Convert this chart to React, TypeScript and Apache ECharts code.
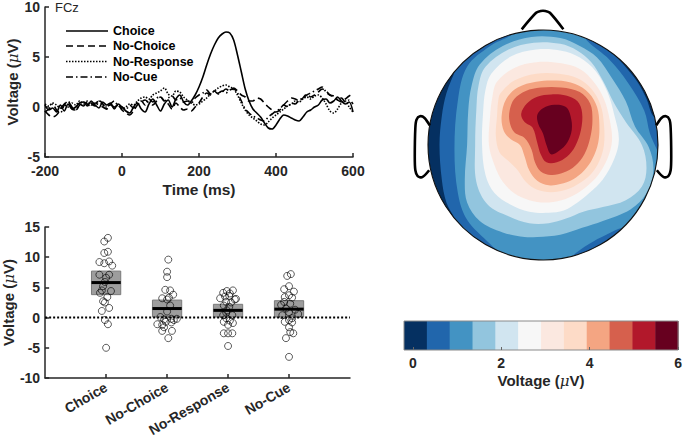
import React, { useEffect, useRef } from "react";
import * as echarts from "echarts";

// ---------- ERP waveforms (FCz), sampled every 10 ms from -200 to 600 ----------
const times = Array.from({ length: 81 }, (_, i) => -200 + i * 10);
const choiceErp = [
  0.2, -0.3, -0.1, -0.5, 0.2, -0.4, 0.3, -0.2, 0.0, 0.4,
  0.5, 0.1, 0.6, 0.2, -0.1, 0.5, 0.2, 0.4, -0.2, 0.3,
  0.0, -0.4, -0.6, 0.0, 0.4, -0.2, -0.5, 0.3, 0.8, 0.2,
  -0.4, 0.3, 0.7, 0.0, 0.8, 1.2, 0.5, 0.2, 0.6, 1.2,
  2.0, 3.0, 4.2, 5.3, 6.2, 6.9, 7.3, 7.5, 7.4, 6.7,
  5.2, 3.5, 1.8, 0.6, -0.2, -0.6, -1.0, -1.6, -2.1, -2.2,
  -1.8, -1.2, -0.8, -0.9, -1.1, -1.3, -1.4, -1.0, -0.5, -0.3,
  0.0, 0.2, 0.7, 0.8, 0.4, 0.6, 1.0, 0.6, 0.3, 0.5,
  -0.5,
];
const noChoiceErp = [
  -0.4, -0.8, -1.0, -0.8, -0.3, 0.3, 0.5, 0.0, -0.3, 0.2,
  0.5, 0.3, 0.0, 0.4, 0.2, 0.0, -0.2, 0.2, 0.0, 0.2,
  -0.3, -0.6, -0.8, -0.4, 0.2, 0.5, 0.7, 0.4, 0.2, 0.6,
  1.0, 0.6, 0.3, -0.2, 0.4, 0.0, -0.3, -0.2, -0.4, 0.0,
  0.4, 1.0, 1.4, 1.2, 1.6, 1.3, 1.5, 1.8, 1.6, 1.9,
  1.6, 1.2, 1.0, 0.6, 0.6, 0.9, 0.8, 0.4, 0.0, -0.3,
  -0.5, -0.3, 0.2, 0.6, 0.9, 0.8, 0.6, 0.9, 1.3, 1.0,
  1.2, 1.5, 1.8, 1.6, 1.2, 1.0, 0.7, 0.5, 0.8, 1.1,
  1.3,
];
const noResponseErp = [
  0.3, 0.1, 0.4, 0.2, -0.1, 0.2, 0.0, 0.4, 0.2, 0.6,
  0.3, 0.5, 0.2, 0.3, 0.6, 0.2, 0.0, 0.3, -0.1, 0.2,
  -0.2, 0.0, 0.3, 0.2, 0.6, 0.9, 1.0, 0.8, 1.2, 1.4,
  1.6, 1.9, 1.3, 1.1, 1.6, 1.5, 1.0, 0.7, 0.4, 0.2,
  0.3, 0.6, 0.9, 1.3, 1.6, 1.9, 2.1, 2.2, 2.0, 1.8,
  1.2, 0.4, -0.3, -0.8, -1.1, -1.4, -1.7, -1.8, -1.5, -1.1,
  -0.8, -0.5, -0.2, 0.1, 0.3, 0.6, 0.5, 0.8, 1.0, 0.8,
  1.1, 1.2, 0.9, 0.3, -0.4, -0.6, -0.2, 0.4, 0.6, 0.0,
  -0.5,
];
const noCueErp = [
  -0.5, -0.2, 0.3, -0.3, -0.6, 0.2, 0.6, -0.2, -0.3, 0.3,
  0.1, 0.6, 0.4, 0.1, 0.7, 0.3, -0.2, 0.3, 0.6, 0.1,
  0.0, -0.3, 0.2, -0.1, 0.3, 0.6, 0.2, 0.8, 0.5, 0.9,
  1.0, 0.6, 0.9, 1.1, 0.7, 0.9, 0.5, 0.6, 0.4, 0.9,
  1.2, 1.4, 1.7, 1.3, 1.6, 1.4, 1.6, 1.4, 1.7, 1.8,
  1.4, 0.6, -0.2, -0.6, -0.9, -1.1, -1.3, -1.4, -1.0, -0.7,
  -0.4, -0.2, 0.2, 0.0, 0.4, 0.3, 0.7, 0.9, 1.2, 1.4,
  1.6, 1.8, 2.0, 1.5, 1.2, 1.1, 0.8, 0.9, 0.5, 0.7,
  0.3,
];
const erpNames = ["Choice", "No-Choice", "No-Response", "No-Cue"];

// ---------- Single-subject amplitudes ----------
const conditions = ["Choice", "No-Choice", "No-Response", "No-Cue"];
const boxLow = [3.8, 0.1, 0.1, 0.1];
const boxHigh = [7.7, 2.9, 2.2, 2.8];
const boxMean = [5.8, 1.5, 1.2, 1.4];
const choicePts = [13.2, 12.6, 10.9, 10.7, 9.2, 9.0, 9.3, 8.6, 7.1, 7.1, 6.6, 5.9, 5.2, 4.5, 4.1, 4.4, 3.4, 2.7, 2.5, 1.6, 1.1, -0.4, -1.1, -5.0];
const choiceJit = [0.03, -0.03, 0.03, -0.03, -0.11, -0.03, 0.05, 0.1, -0.11, 0.05, 0, -0.02, -0.05, -0.07, -0.1, 0.08, 0.02, -0.05, -0.02, 0.05, -0.07, -0.02, 0.03, 0];
const noChoicePts = [9.6, 7.6, 6.7, 4.6, 4.5, 3.8, 3.2, 3.0, 3.3, 2.0, 1.0, 0.1, -0.3, -0.2, -0.4, -0.2, -0.7, -1.1, -0.8, -1.6, -1.2, -2.2, -2.2, -3.4];
const noChoiceJit = [0.02, 0, 0, -0.03, 0.05, 0.1, -0.08, 0, 0.03, 0.05, 0, -0.11, -0.05, 0.07, 0.11, 0.16, -0.02, -0.16, 0.07, -0.05, -0.08, -0.08, 0.08, 0.02];
const noResponsePts = [4.5, 4.4, 4.1, 4.0, 3.6, 3.5, 3.2, 3.1, 3.0, 2.6, 2.5, 2.0, 1.8, 1.2, 0.8, 0.4, 0.4, -0.1, -0.5, -0.7, -0.9, -1.2, -2.6, -2.6, -2.6, -4.7];
const noResponseJit = [0.08, -0.02, -0.08, 0.03, 0.02, -0.05, -0.13, 0.13, 0.11, -0.03, 0.05, -0.07, 0.02, -0.02, -0.03, -0.08, 0.07, -0.03, 0.03, -0.07, 0.08, 0, -0.07, 0, 0.07, 0];
const noCuePts = [7.2, 6.9, 5.2, 4.7, 4.3, 3.7, 3.4, 3.3, 2.6, 2.3, 2.1, 1.5, 1.3, 0.9, 0.6, 0.4, -0.1, -0.4, -0.7, -0.8, -1.6, -2.4, -2.6, -3.4, -6.5];
const noCueJit = [0.03, -0.03, 0, -0.08, 0.08, 0, -0.07, 0.05, -0.08, 0.02, -0.13, -0.05, 0.1, 0, 0.15, -0.11, 0.05, 0, -0.07, 0.05, 0, 0.02, 0.07, -0.05, 0];

// ---------- Topography (head units, radius 1) ----------
const levelEdges = [-0.2, 0.317, 0.833, 1.35, 1.867, 2.383, 2.9, 3.417, 3.933, 4.45, 4.967, 5.483, 6.0];
const levelColors = ["#053061", "#2166ac", "#4393c3", "#92c5de", "#d1e5f0", "#f7f7f7", "#fbe8e0", "#fddbc7", "#f4a582", "#d6604d", "#b2182b", "#67001f"];
const contour1 = [[-0.76, 0.66], [-0.84, 0.45], [-0.88, 0.25], [-0.9, 0.0], [-0.88, -0.3], [-0.84, -0.5], [-0.76, -0.66], [-0.7, -0.9], [0, -1.15], [0.85, -0.8], [1.15, 0], [1.05, 0.22], [0.96, 0.25], [0.9, 0.4], [0.82, 0.55], [0.7, 0.7], [0.62, 0.8], [0.6, 0.95], [0, 1.15], [-0.7, 0.9]];
const contour2 = [[-0.26, 0.97], [-0.46, 0.86], [-0.66, 0.68], [-0.74, 0.39], [-0.77, -0.04], [-0.74, -0.42], [-0.66, -0.65], [-0.46, -0.86], [-0.37, -0.94], [-0.2, -1.1], [0.15, -1.1], [0.25, -0.97], [0.4, -0.86], [0.55, -0.78], [0.69, -0.72], [0.85, -0.7], [1.1, -0.3], [0.99, -0.04], [0.93, 0.1], [0.88, 0.3], [0.74, 0.54], [0.58, 0.74], [0.38, 0.91], [0.3, 1.05], [-0.2, 1.1]];
const contour3 = [[-0.55, 0.7], [-0.35, 0.86], [-0.1, 0.94], [0.15, 0.93], [0.32, 0.86], [0.47, 0.76], [0.6, 0.58], [0.72, 0.38], [0.8, 0.16], [0.92, -0.02], [0.96, -0.22], [0.9, -0.42], [0.76, -0.56], [0.52, -0.66], [0.34, -0.72], [0.15, -0.78], [-0.05, -0.8], [-0.16, -0.8], [-0.35, -0.76], [-0.55, -0.66], [-0.66, -0.5], [-0.68, -0.3], [-0.66, 0.0], [-0.65, 0.3], [-0.62, 0.52]];
const contour4 = [[-0.5, 0.68], [-0.3, 0.83], [-0.08, 0.89], [0.15, 0.88], [0.3, 0.82], [0.42, 0.72], [0.52, 0.56], [0.62, 0.36], [0.72, 0.2], [0.86, 0.0], [0.9, -0.2], [0.86, -0.36], [0.72, -0.48], [0.52, -0.54], [0.35, -0.58], [0.2, -0.64], [0.05, -0.68], [-0.12, -0.68], [-0.3, -0.62], [-0.48, -0.52], [-0.58, -0.32], [-0.59, 0.0], [-0.58, 0.3], [-0.56, 0.52]];
const contour5 = [[-0.45, 0.62], [-0.28, 0.77], [-0.06, 0.83], [0.16, 0.82], [0.32, 0.76], [0.46, 0.64], [0.56, 0.46], [0.62, 0.26], [0.66, 0.05], [0.62, -0.12], [0.52, -0.3], [0.4, -0.42], [0.3, -0.5], [0.18, -0.57], [0.05, -0.59], [-0.12, -0.58], [-0.28, -0.52], [-0.42, -0.42], [-0.5, -0.26], [-0.53, 0.0], [-0.52, 0.3], [-0.5, 0.48]];
const contour6 = [[-0.4, 0.55], [-0.25, 0.67], [-0.06, 0.72], [0.16, 0.71], [0.32, 0.66], [0.44, 0.55], [0.53, 0.4], [0.58, 0.22], [0.6, 0.04], [0.56, -0.12], [0.48, -0.26], [0.38, -0.36], [0.28, -0.43], [0.16, -0.48], [0.02, -0.5], [-0.12, -0.48], [-0.25, -0.42], [-0.35, -0.32], [-0.42, -0.18], [-0.47, 0.0], [-0.46, 0.25], [-0.44, 0.42]];
const contour7 = [[-0.37, 0.45], [-0.25, 0.56], [-0.06, 0.62], [0.14, 0.62], [0.3, 0.58], [0.42, 0.49], [0.5, 0.35], [0.53, 0.18], [0.53, 0.0], [0.49, -0.14], [0.42, -0.25], [0.32, -0.33], [0.2, -0.39], [0.07, -0.41], [-0.05, -0.39], [-0.15, -0.32], [-0.22, -0.22], [-0.3, -0.14], [-0.38, -0.06], [-0.41, 0.08], [-0.4, 0.25], [-0.39, 0.38]];
const contour8 = [[-0.32, 0.4], [-0.22, 0.5], [-0.06, 0.55], [0.12, 0.56], [0.28, 0.53], [0.4, 0.45], [0.47, 0.33], [0.49, 0.18], [0.48, 0.02], [0.43, -0.12], [0.36, -0.22], [0.26, -0.3], [0.15, -0.34], [0.05, -0.35], [-0.05, -0.31], [-0.12, -0.22], [-0.16, -0.1], [-0.2, 0.0], [-0.28, 0.05], [-0.34, 0.12], [-0.36, 0.25]];
const contour9 = [[-0.29, 0.3], [-0.25, 0.4], [-0.15, 0.47], [-0.02, 0.5], [0.16, 0.5], [0.32, 0.46], [0.41, 0.36], [0.43, 0.22], [0.41, 0.06], [0.36, -0.08], [0.28, -0.18], [0.18, -0.24], [0.07, -0.26], [-0.02, -0.23], [-0.07, -0.15], [-0.1, -0.04], [-0.16, 0.06], [-0.25, 0.11], [-0.29, 0.2]];
const contour10 = [[-0.19, 0.27], [-0.14, 0.36], [-0.05, 0.42], [0.07, 0.44], [0.2, 0.43], [0.3, 0.38], [0.34, 0.28], [0.33, 0.13], [0.28, -0.01], [0.21, -0.1], [0.12, -0.15], [0.03, -0.15], [-0.02, -0.08], [-0.05, 0.02], [-0.09, 0.15], [-0.16, 0.2]];
const contour11 = [[-0.05, 0.26], [0.0, 0.32], [0.1, 0.35], [0.2, 0.33], [0.24, 0.25], [0.25, 0.13], [0.21, 0.02], [0.14, -0.05], [0.07, -0.08], [0.03, 0.0], [0.0, 0.1], [-0.04, 0.18]];
const contours = [contour1, contour2, contour3, contour4, contour5, contour6, contour7, contour8, contour9, contour10, contour11];
const noseOutline = [[-0.185, 1.006], [-0.06, 1.15], [-0.02, 1.165], [0.02, 1.165], [0.06, 1.15], [0.177, 1.006]];
const leftEarOutline = [[-0.985, 0.17], [-1.03, 0.235], [-1.07, 0.25], [-1.1, 0.22], [-1.11, 0.15], [-1.115, -0.1], [-1.11, -0.22], [-1.09, -0.27], [-1.05, -0.28], [-0.99, -0.22]];
const colorTicks = [0, 2, 4, 6];

const FONT = '"Liberation Sans", Arial, Helvetica, sans-serif';
const INK = "#262626";

const voltName = "{a|Voltage (}{b|μ}{a|V)}";
const voltRich = {
  a: { fontFamily: FONT, fontWeight: "bold", fontSize: 15, color: INK },
  b: { fontFamily: "DejaVu Serif, serif", fontStyle: "italic", fontWeight: "normal", fontSize: 15, color: INK },
};

export default function App() {
  const ref = useRef<HTMLDivElement>(null);
  useEffect(() => {
    if (!ref.current) return;
    const chart = echarts.init(ref.current, null, { renderer: "svg" });

    const axisLine = { show: true, onZero: false, lineStyle: { color: INK, width: 1.5 } };
    const axisTick = { show: true, inside: true, length: 4, lineStyle: { color: INK, width: 1.5 } };
    const labelStyle = { fontFamily: FONT, fontWeight: "bold", fontSize: 14, color: INK };

    const dashes: any[] = ["solid", [7, 4], [1.5, 1.5], [7, 3, 1.5, 3]];
    const erps = [choiceErp, noChoiceErp, noResponseErp, noCueErp];

    const scatterData: number[][] = [];
    const pts = [choicePts, noChoicePts, noResponsePts, noCuePts];
    const jits = [choiceJit, noChoiceJit, noResponseJit, noCueJit];
    pts.forEach((arr, ci) => arr.forEach((v, k) => scatterData.push([ci + 1 + jits[ci][k], v])));

    const legendGraphics: any[] = [];
    const legendY = [31, 46, 61.5, 77];
    erpNames.forEach((n, i) => {
      legendGraphics.push({
        type: "line",
        shape: { x1: 66, y1: legendY[i], x2: 108, y2: legendY[i] },
        style: { stroke: "#000", lineWidth: 1.6, lineDash: i === 0 ? null : dashes[i] },
      });
      legendGraphics.push({
        type: "text",
        x: 113,
        y: legendY[i],
        style: { text: n, font: `bold 12.5px ${FONT}`, fill: "#000", verticalAlign: "middle", align: "left" },
      });
    });

    const option: any = {
      animation: false,
      grid: [
        { left: 45, top: 5, width: 308, height: 152 },
        { left: 45, top: 227, width: 305, height: 151 },
        { left: 405, top: 7, width: 276, height: 276 },
        { left: 404, top: 321, width: 278, height: 29 },
      ],
      xAxis: [
        {
          gridIndex: 0, type: "value", min: -200, max: 600, interval: 200,
          axisLine, axisTick, splitLine: { show: false },
          axisLabel: { ...labelStyle, margin: 7 },
          name: "Time (ms)", nameLocation: "middle", nameGap: 24,
          nameTextStyle: { fontFamily: FONT, fontWeight: "bold", fontSize: 15.5, color: INK },
        },
        {
          gridIndex: 1, type: "value", min: 0, max: 5,
          axisLine, splitLine: { show: false },
          axisTick: { ...axisTick, customValues: [1, 2, 3, 4] },
          axisLabel: { ...labelStyle, margin: 8, rotate: 30, customValues: [1, 2, 3, 4], formatter: (v: number) => conditions[Math.round(v) - 1] || "" },
        },
        { gridIndex: 2, type: "value", min: -1.2, max: 1.2, show: false },
        {
          gridIndex: 3, type: "value", min: levelEdges[0], max: levelEdges[levelEdges.length - 1], z: 10,
          axisLine: { show: false, onZero: false },
          splitLine: { show: false },
          axisTick: { show: true, inside: true, length: 3, customValues: colorTicks, lineStyle: { color: "#666", width: 1 } },
          axisLabel: { ...labelStyle, margin: 6, customValues: colorTicks },
          name: voltName, nameLocation: "middle", nameGap: 23,
          nameTextStyle: { rich: voltRich },
        },
      ],
      yAxis: [
        {
          gridIndex: 0, type: "value", min: -5, max: 10, interval: 5,
          axisLine, axisTick, splitLine: { show: false },
          axisLabel: { ...labelStyle, margin: 5 },
          name: voltName, nameLocation: "middle", nameGap: 25, nameTextStyle: { rich: voltRich },
        },
        {
          gridIndex: 1, type: "value", min: -10, max: 15, interval: 5,
          axisLine, axisTick, splitLine: { show: false },
          axisLabel: { ...labelStyle, margin: 5 },
          name: voltName, nameLocation: "middle", nameGap: 25, nameTextStyle: { rich: voltRich },
        },
        { gridIndex: 2, type: "value", min: -1.2, max: 1.2, show: false },
        { gridIndex: 3, type: "value", min: 0, max: 1, show: false },
      ],
      graphic: [
        {
          type: "text", x: 55, y: 7,
          style: { text: "FCz", font: `13px ${FONT}`, fill: INK, verticalAlign: "middle", align: "left" },
        },
        ...legendGraphics,
      ],
      series: [
        ...erps.map((vals, i) => ({
          name: erpNames[i],
          type: "line",
          xAxisIndex: 0,
          yAxisIndex: 0,
          showSymbol: false,
          symbol: "none",
          smooth: 0.3,
          data: times.map((t, k) => [t, vals[k]]),
          lineStyle: { color: "#000", width: 1.6, type: dashes[i] },
          z: 3,
        })),
        {
          type: "custom",
          xAxisIndex: 1,
          yAxisIndex: 1,
          data: conditions.map((_, i) => [i + 1, boxLow[i], boxHigh[i], boxMean[i]]),
          encode: { x: 0, y: [1, 2] },
          renderItem: (params: any, api: any) => {
            const x = api.value(0);
            const lo = api.value(1);
            const hi = api.value(2);
            const m = api.value(3);
            const a = api.coord([x - 0.24, hi]);
            const b = api.coord([x + 0.24, lo]);
            const ml = api.coord([x - 0.24, m]);
            const mr = api.coord([x + 0.24, m]);
            return {
              type: "group",
              children: [
                { type: "rect", shape: { x: a[0], y: a[1], width: b[0] - a[0], height: b[1] - a[1] }, style: { fill: "#9d9d9d", stroke: "#7a7a7a", lineWidth: 1 } },
                { type: "line", shape: { x1: ml[0], y1: ml[1], x2: mr[0], y2: mr[1] }, style: { stroke: "#000", lineWidth: 3 } },
              ],
            };
          },
          z: 2,
        },
        {
          type: "line",
          xAxisIndex: 1,
          yAxisIndex: 1,
          data: [[0, 0], [5, 0]],
          symbol: "none",
          lineStyle: { color: "#000", width: 2, type: [2, 2] },
          z: 3,
        },
        {
          type: "scatter",
          xAxisIndex: 1,
          yAxisIndex: 1,
          data: scatterData,
          symbol: "circle",
          symbolSize: 7,
          itemStyle: { color: "rgba(255,255,255,0)", borderColor: "#000", borderWidth: 0.8 },
          z: 4,
        },
        {
          type: "custom",
          xAxisIndex: 2,
          yAxisIndex: 2,
          data: levelColors.map((_, i) => [0, 0, i]),
          encode: { x: 0, y: 1 },
          renderItem: (params: any, api: any) => {
            const i = params.dataIndex;
            if (i === 0) {
              const c = api.coord([0, 0]);
              const r = api.size([1, 0])[0];
              return { type: "circle", shape: { cx: c[0], cy: c[1], r: r * 1.05 }, style: { fill: levelColors[0] } };
            }
            const p = contours[i - 1].map((q) => api.coord(q));
            return { type: "polygon", shape: { points: p, smooth: 0.35 }, style: { fill: levelColors[i] } };
          },
          z: 2,
        },
        {
          type: "custom",
          xAxisIndex: 2,
          yAxisIndex: 2,
          data: [[0, 0]],
          encode: { x: 0, y: 1 },
          renderItem: (params: any, api: any) => {
            const c = api.coord([0, 0]);
            const R = api.size([1, 0])[0];
            const nose = noseOutline.map((q) => api.coord(q));
            const le = leftEarOutline.map((q) => api.coord(q));
            const re = leftEarOutline.map((q) => api.coord([-q[0], q[1]]));
            return {
              type: "group",
              children: [
                { type: "ring", shape: { cx: c[0], cy: c[1], r: R * 1.3, r0: R }, style: { fill: "#fff" } },
                { type: "circle", shape: { cx: c[0], cy: c[1], r: R }, style: { fill: "none", stroke: "#111", lineWidth: 1.1 } },
                { type: "polyline", shape: { points: nose, smooth: 0.3 }, style: { fill: "none", stroke: "#000", lineWidth: 2.6 } },
                { type: "polyline", shape: { points: le, smooth: 0.3 }, style: { fill: "none", stroke: "#000", lineWidth: 2.6 } },
                { type: "polyline", shape: { points: re, smooth: 0.3 }, style: { fill: "none", stroke: "#000", lineWidth: 2.6 } },
              ],
            };
          },
          z: 5,
        },
        {
          type: "custom",
          xAxisIndex: 3,
          yAxisIndex: 3,
          data: levelColors.map((_, i) => [levelEdges[i], levelEdges[i + 1], i]),
          encode: { x: [0, 1] },
          renderItem: (params: any, api: any) => {
            const i = params.dataIndex;
            const a = api.coord([api.value(0), 1]);
            const b = api.coord([api.value(1), 0]);
            return { type: "rect", shape: { x: a[0], y: a[1], width: b[0] - a[0] + 0.5, height: b[1] - a[1] }, style: { fill: levelColors[i] } };
          },
          z: 2,
        },
        {
          type: "custom",
          xAxisIndex: 3,
          yAxisIndex: 3,
          data: [[levelEdges[0], levelEdges[levelEdges.length - 1]]],
          encode: { x: [0, 1] },
          renderItem: (params: any, api: any) => {
            const a = api.coord([api.value(0), 1]);
            const b = api.coord([api.value(1), 0]);
            return { type: "rect", shape: { x: a[0], y: a[1], width: b[0] - a[0], height: b[1] - a[1] }, style: { fill: "none", stroke: "#8a8a8a", lineWidth: 1 } };
          },
          z: 3,
        },
      ],
    };
    chart.setOption(option);
    return () => chart.dispose();
  }, []);
  return <div ref={ref} style={{ position: "absolute", left: 0, top: 0, width: 685, height: 441, background: "#fff" }} />;
}
